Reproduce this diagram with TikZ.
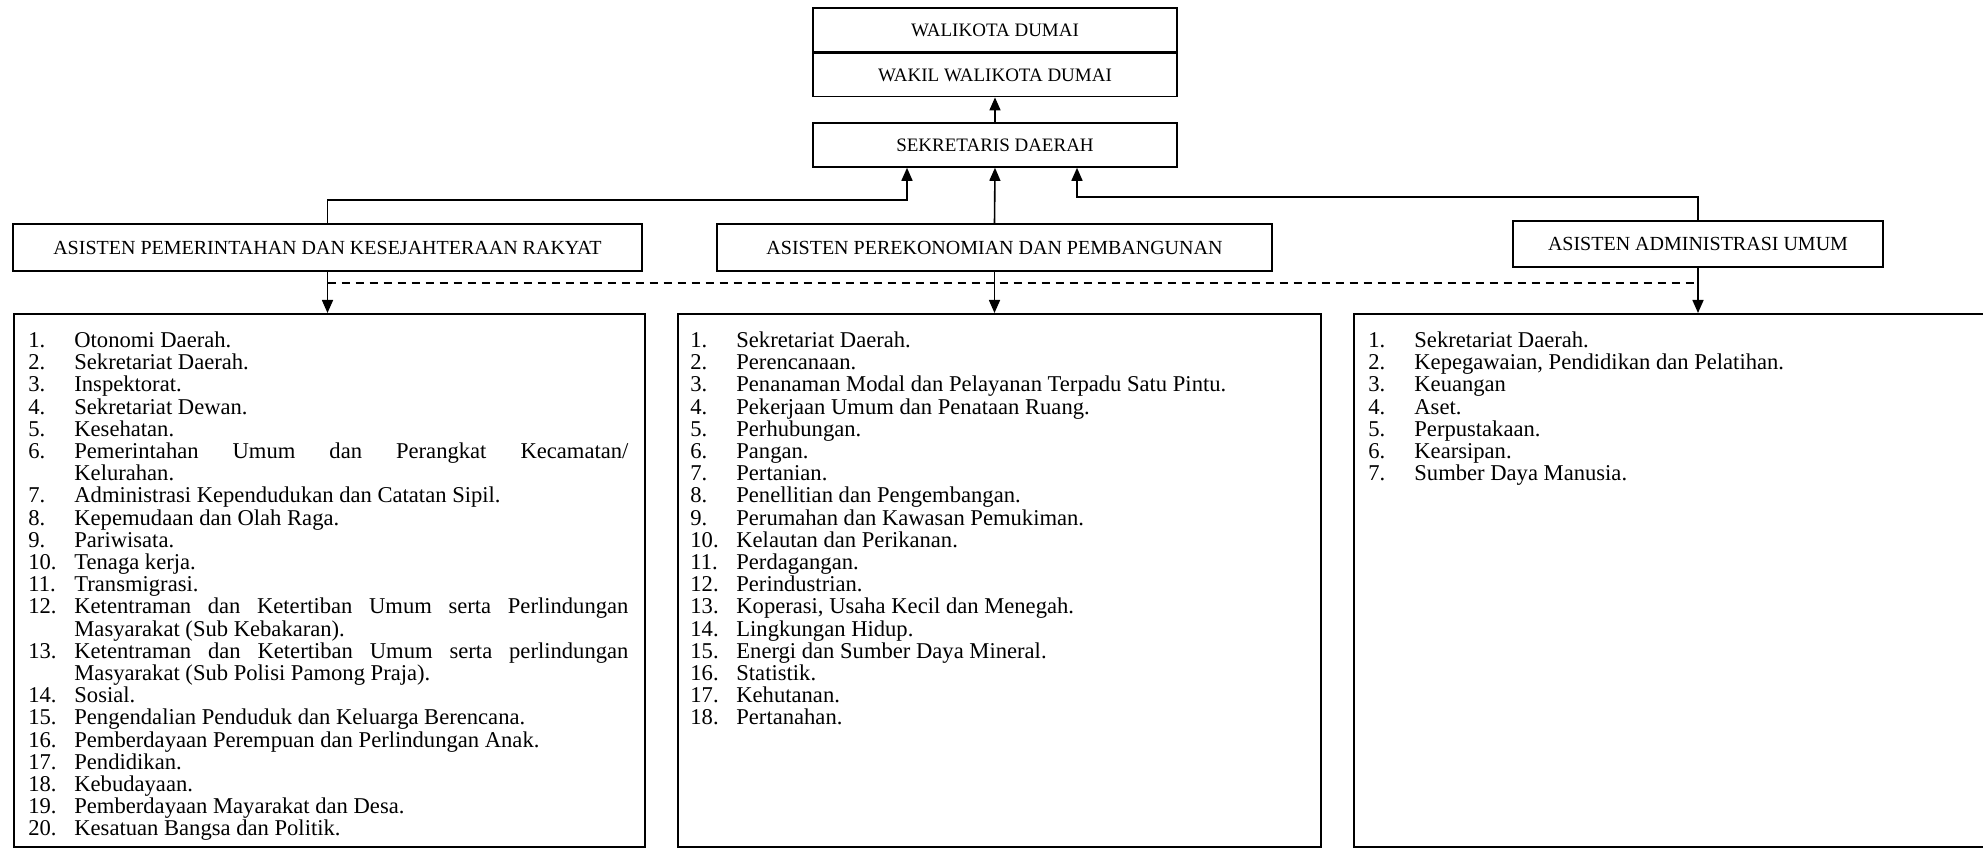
\documentclass[tikz,border=0pt]{standalone}
\usepackage{fontspec}
\setmainfont{Liberation Serif}
\usetikzlibrary{arrows.meta,positioning}

\newcommand{\itm}[2]{\par\hangindent=23pt\hangafter=1\noindent\makebox[23pt][l]{#1}#2}

\tikzset{
  head/.style={draw, line width=0.8pt, inner sep=0pt, font=\fontsize{9.5}{11}\selectfont},
  asisten/.style={head, font=\fontsize{10}{12}\selectfont},
  listbox/.style={draw, line width=0.8pt, anchor=north west, inner sep=0pt},
  listtext/.style={anchor=north west, inner sep=0pt, text width=#1, align=justify,
    font=\fontsize{11.3}{11.1}\selectfont},
  link/.style={line width=0.8pt, -{Triangle[length=6.5pt,width=5.5pt]}},
  guide/.style={line width=0.8pt, dash pattern=on 4pt off 3pt},
}

\begin{document}
\begin{tikzpicture}[x=0.5pt,y=-0.5pt]
\useasboundingbox (0,0) rectangle (1983,849);

% pimpinan
\node[head, minimum width=182pt, minimum height=22pt] (walikota) at (995,30) {WALIKOTA DUMAI};
\node[head, minimum width=182pt, minimum height=21.5pt, below=0pt of walikota] (wakil) {WAKIL WALIKOTA DUMAI};
\node[head, minimum width=182pt, minimum height=22pt] (sekda) at (995,145) {SEKRETARIS DAERAH};

% asisten
\node[asisten, minimum width=314.5pt, minimum height=23.5pt] (asis1) at (327.5,247.5) {ASISTEN PEMERINTAHAN DAN KESEJAHTERAAN RAKYAT};
\node[asisten, minimum width=277.5pt, minimum height=23.5pt] (asis2) at (994.5,247.5) {ASISTEN PEREKONOMIAN DAN PEMBANGUNAN};
\node[asisten, minimum width=185pt, minimum height=23pt] (asis3) at (1698,244) {ASISTEN ADMINISTRASI UMUM};

% kotak urusan
\node[listbox, minimum width=315.5pt, minimum height=266.5pt] (urusan1) at (13,313) {};
\node[listbox, minimum width=321.5pt, minimum height=266.5pt] (urusan2) at (677,313) {};
\node[listbox, minimum width=320pt, minimum height=266.5pt] (urusan3) at (1353,313) {};

\node[listtext=300pt] (daftar1) at ([shift={(15,12)}]urusan1.north west) {%
\itm{1.}{Otonomi Daerah.}
\itm{2.}{Sekretariat Daerah.}
\itm{3.}{Inspektorat.}
\itm{4.}{Sekretariat Dewan.}
\itm{5.}{Kesehatan.}
\itm{6.}{Pemerintahan Umum dan Perangkat Kecamatan/\linebreak Kelurahan.}
\itm{7.}{Administrasi Kependudukan dan Catatan Sipil.}
\itm{8.}{Kepemudaan dan Olah Raga.}
\itm{9.}{Pariwisata.}
\itm{10.}{Tenaga kerja.}
\itm{11.}{Transmigrasi.}
\itm{12.}{Ketentraman dan Ketertiban Umum serta Perlindungan\linebreak Masyarakat (Sub Kebakaran).}
\itm{13.}{Ketentraman dan Ketertiban Umum serta perlindungan\linebreak Masyarakat (Sub Polisi Pamong Praja).}
\itm{14.}{Sosial.}
\itm{15.}{Pengendalian Penduduk dan Keluarga Berencana.}
\itm{16.}{Pemberdayaan Perempuan dan Perlindungan Anak.}
\itm{17.}{Pendidikan.}
\itm{18.}{Kebudayaan.}
\itm{19.}{Pemberdayaan Mayarakat dan Desa.}
\itm{20.}{Kesatuan Bangsa dan Politik.}};

\node[listtext=300pt] (daftar2) at ([shift={(13,12)}]urusan2.north west) {%
\itm{1.}{Sekretariat Daerah.}
\itm{2.}{Perencanaan.}
\itm{3.}{Penanaman Modal dan Pelayanan Terpadu Satu Pintu.}
\itm{4.}{Pekerjaan Umum dan Penataan Ruang.}
\itm{5.}{Perhubungan.}
\itm{6.}{Pangan.}
\itm{7.}{Pertanian.}
\itm{8.}{Penellitian dan Pengembangan.}
\itm{9.}{Perumahan dan Kawasan Pemukiman.}
\itm{10.}{Kelautan dan Perikanan.}
\itm{11.}{Perdagangan.}
\itm{12.}{Perindustrian.}
\itm{13.}{Koperasi, Usaha Kecil dan Menegah.}
\itm{14.}{Lingkungan Hidup.}
\itm{15.}{Energi dan Sumber Daya Mineral.}
\itm{16.}{Statistik.}
\itm{17.}{Kehutanan.}
\itm{18.}{Pertanahan.}};

\node[listtext=300pt] (daftar3) at ([shift={(15,12)}]urusan3.north west) {%
\itm{1.}{Sekretariat Daerah.}
\itm{2.}{Kepegawaian, Pendidikan dan Pelatihan.}
\itm{3.}{Keuangan}
\itm{4.}{Aset.}
\itm{5.}{Perpustakaan.}
\itm{6.}{Kearsipan.}
\itm{7.}{Sumber Daya Manusia.}};

% garis komando
\coordinate (kiri) at (907,200);
\coordinate (kanan) at (1077,197);
\coordinate (koord) at (0,283);

\draw[link] (sekda.north) -- (wakil.south);
\draw[link] (asis1.north) |- (kiri) -- (kiri |- sekda.south);
\draw[link] (asis2.north) -- (sekda.south);
\draw[link] (asis3.north) |- (kanan) -- (kanan |- sekda.south);

\draw[guide] (asis1.south |- koord) -- (asis3.south |- koord);

\draw[link] (asis1.south) -- (asis1.south |- urusan1.north);
\draw[link] (asis2.south) -- (asis2.south |- urusan2.north);
\draw[link] (asis3.south) -- (asis3.south |- urusan3.north);
\end{tikzpicture}
\end{document}
